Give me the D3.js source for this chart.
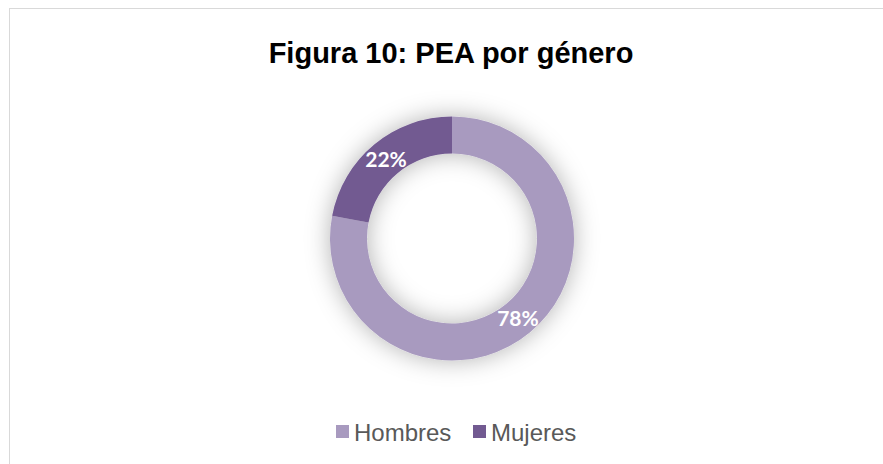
<!DOCTYPE html>
<html>
<head>
<meta charset="utf-8">
<script src="https://d3js.org/d3.v7.min.js"></script>
<style>
body { margin: 0; background: #fff; }
text { font-family: "Liberation Sans", Arial, sans-serif; }
</style>
</head>
<body>
<svg id="chart" width="883" height="464"></svg>
<script>
// data
var categories = ["Hombres", "Mujeres"];
var values = [78, 22];
var colors = ["#a89abf", "#725a91"];
var title = "Figura 10: PEA por género";

var svg = d3.select("#chart");

// chart area border
svg.append("rect")
  .attr("x", 9.5).attr("y", 8.5)
  .attr("width", 900).attr("height", 480)
  .attr("fill", "#fff")
  .attr("stroke", "#d9d9d9");

// title
svg.append("text")
  .attr("x", 451).attr("y", 63)
  .attr("text-anchor", "middle")
  .style("font-size", "29px")
  .style("font-weight", "bold")
  .attr("fill", "#000")
  .text(title);

// soft glow shadow
var defs = svg.append("defs");
var f = defs.append("filter").attr("id", "glow")
  .attr("x", "-40%").attr("y", "-40%").attr("width", "180%").attr("height", "180%");
f.append("feDropShadow")
  .attr("dx", 0).attr("dy", 0)
  .attr("stdDeviation", 12)
  .attr("flood-color", "#000")
  .attr("flood-opacity", 0.3);

var cx = 452, cy = 238.5;
var outerR = 122, innerR = 85;

var pie = d3.pie().sort(null).value(function(d) { return d; });
var arcs = pie(values);
var arc = d3.arc().innerRadius(innerR).outerRadius(outerR);
var labelArc = d3.arc().innerRadius((innerR + outerR) / 2).outerRadius((innerR + outerR) / 2);

var g = svg.append("g").attr("transform", "translate(" + cx + "," + cy + ")");

g.append("g").attr("filter", "url(#glow)")
  .selectAll("path")
  .data(arcs)
  .enter().append("path")
  .attr("d", arc)
  .attr("fill", function(d, i) { return colors[i]; });

g.selectAll(".lbl")
  .data(arcs)
  .enter().append("text")
  .attr("class", "lbl")
  .attr("transform", function(d) { return "translate(" + labelArc.centroid(d) + ")"; })
  .attr("text-anchor", "middle")
  .attr("dy", "0.38em")
  .style("font-family", "Lato, 'Open Sans', sans-serif")
  .style("font-size", "21px")
  .style("font-weight", "bold")
  .attr("fill", "#fff")
  .text(function(d) { return d.data + "%"; });

// legend
var legendX = [336, 473];
var leg = svg.append("g").selectAll("g")
  .data(categories)
  .enter().append("g")
  .attr("transform", function(d, i) { return "translate(" + legendX[i] + ",425)"; });
leg.append("rect")
  .attr("width", 13).attr("height", 13)
  .attr("fill", function(d, i) { return colors[i]; });
leg.append("text")
  .attr("x", 18).attr("y", 16)
  .style("font-size", "24px")
  .attr("fill", "#595959")
  .text(function(d) { return d; });
</script>
</body>
</html>
